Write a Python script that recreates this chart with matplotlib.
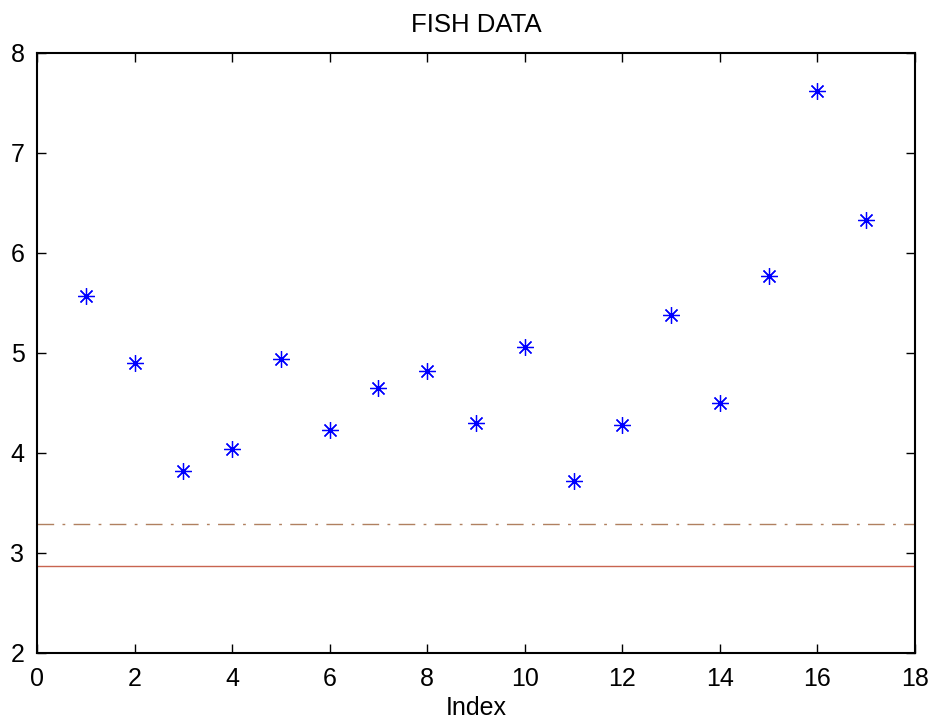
import matplotlib
matplotlib.use('Agg')
import matplotlib.pyplot as plt

# fish data values
index = list(range(1, 18))
fish = [5.57, 4.90, 3.82, 4.04, 4.94, 4.23, 4.65, 4.82, 4.30,
        5.06, 3.72, 4.28, 5.38, 4.50, 5.77, 7.62, 6.33]
level_dashdot = 3.29
level_solid = 2.87

plt.rcParams['font.family'] = ['Liberation Sans', 'DejaVu Sans']

fig = plt.figure(figsize=(9.41, 7.26), dpi=100, facecolor='white')
ax = fig.add_axes([0.0393, 0.1006, 0.9331, 0.8264])

ax.plot(index, fish, linestyle='none', marker=(8, 2, 0), markersize=12,
        markeredgewidth=0.9, color='#0000ff')
ax.axhline(level_dashdot, color='#b08060', linestyle=(0, (12, 6, 2, 6)), linewidth=1.0)
ax.axhline(level_solid, color='#c86450', linestyle='-', linewidth=1.0)

ax.set_xlim(0, 18)
ax.set_ylim(2, 8)
ax.set_xticks(range(0, 19, 2))
ax.set_yticks(range(2, 9))
ax.tick_params(direction='in', top=True, right=True, length=6.5, width=1,
               labelsize=18)
ax.tick_params(axis='x', pad=10)
ax.tick_params(axis='y', pad=9)
for s in ax.spines.values():
    s.set_linewidth(1.5)

ax.set_title('FISH DATA', fontsize=18.5, pad=15)
ax.set_xlabel('Index', fontsize=18, labelpad=4)

fig.savefig('out.png', dpi=100)
